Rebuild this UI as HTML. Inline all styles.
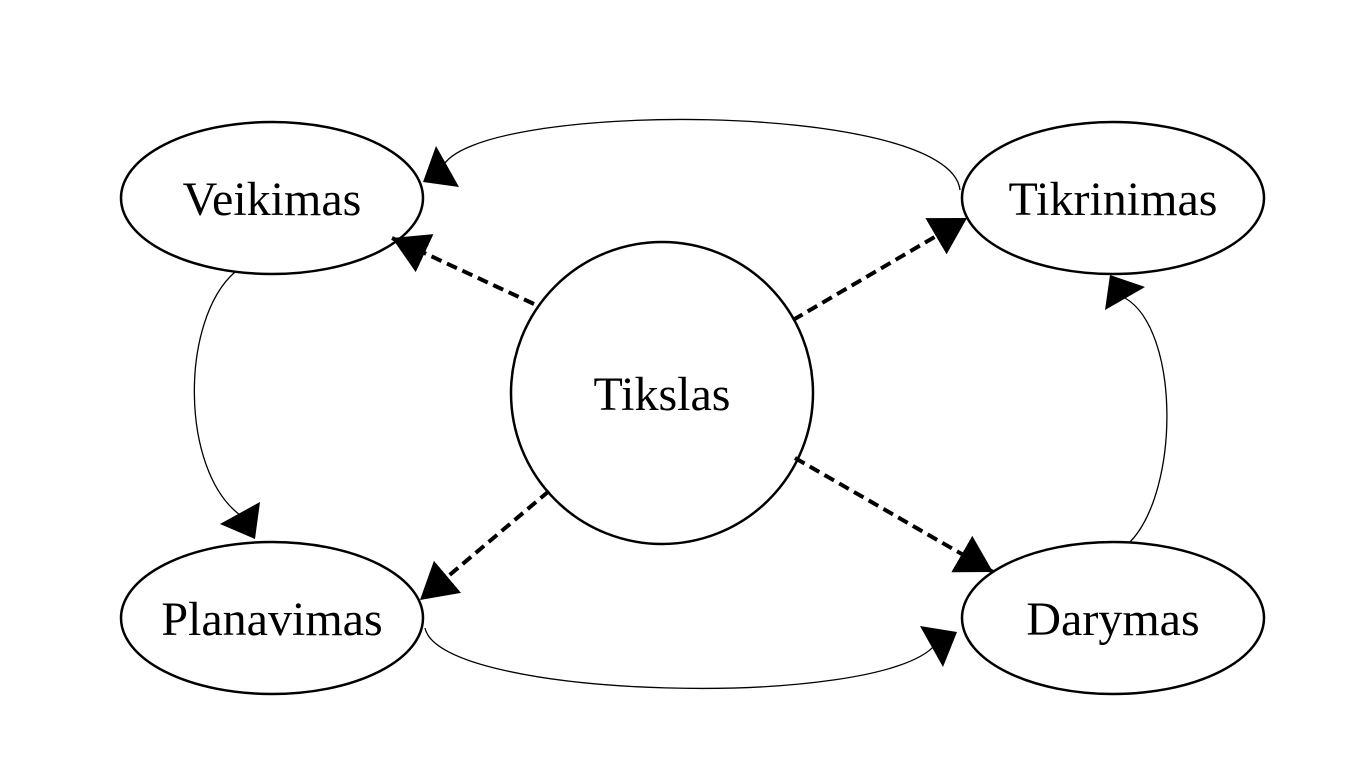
<!DOCTYPE html>
<html><head><meta charset="utf-8"><style>html,body{margin:0;padding:0;background:#fff}</style></head>
<body>
<svg width="1366" height="768" viewBox="0 0 1366 768" xmlns="http://www.w3.org/2000/svg">
<defs>
<marker id="ah" markerUnits="userSpaceOnUse" viewBox="0 0 36 42" refX="36" refY="21" markerWidth="36" markerHeight="42" orient="auto">
<path d="M0,0 L36,21 L0,42 z" fill="#000"/>
</marker>
</defs>
<g fill="none" stroke="#000" stroke-width="2.5">
<ellipse cx="272" cy="198" rx="151" ry="76"/>
<ellipse cx="1113" cy="198" rx="151" ry="76"/>
<ellipse cx="272" cy="618" rx="151" ry="76"/>
<ellipse cx="1113" cy="618" rx="151" ry="76"/>
<circle cx="662" cy="393" r="151"/>
</g>
<g fill="none" stroke="#000" stroke-width="1.3">
<path d="M960 190 C 950 100, 470 100, 442 168"/>
<path d="M235 272 C 180 320, 180 470, 240 515"/>
<path d="M425 628 C 440 700, 880 710, 935 645"/>
<path d="M1130 542 C 1180 490, 1180 330, 1125 298"/>
</g>
<g fill="#000">
<polygon points="436,146 423,182 459,187"/>
<polygon points="220,524 260,502 255,539"/>
<polygon points="920,626 957,632 943,667"/>
<polygon points="1110,275 1145,287 1105,310"/>
</g>
<g stroke="#000" stroke-width="4" stroke-dasharray="11,6" fill="none" marker-end="url(#ah)">
<line x1="534" y1="304" x2="392" y2="238"/>
<line x1="793" y1="320" x2="967" y2="218"/>
<line x1="795" y1="458" x2="993" y2="572"/>
<line x1="549" y1="491" x2="420" y2="600"/>
</g>
<g font-family="Liberation Serif, serif" font-size="48" text-anchor="middle" fill="#000">
<text x="272" y="215">Veikimas</text>
<text x="1113" y="215">Tikrinimas</text>
<text x="272" y="635">Planavimas</text>
<text x="1113" y="635">Darymas</text>
<text x="662" y="410">Tikslas</text>
</g>
</svg>
</body></html>
